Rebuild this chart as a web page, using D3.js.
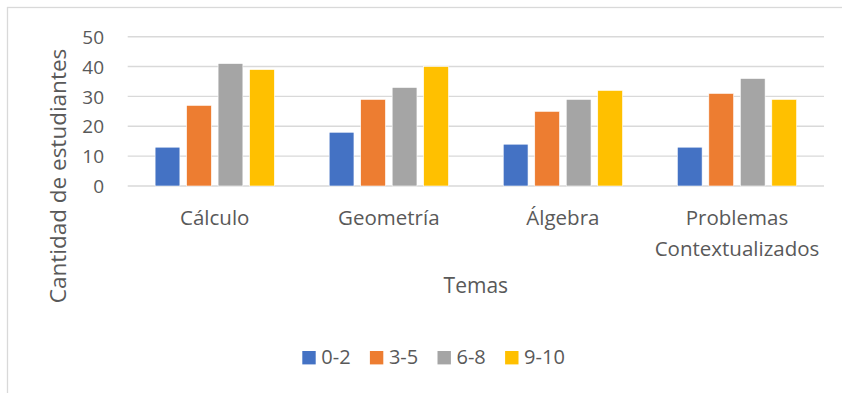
<!DOCTYPE html>
<html>
<head>
<meta charset="utf-8">
<script src="https://cdn.jsdelivr.net/npm/d3@7"></script>
<style>
  html, body { margin: 0; padding: 0; background: #fff; }
  svg { display: block; }
  text { font-family: "Open Sans", "Noto Sans", sans-serif; fill: #595959; }
</style>
</head>
<body>
<svg id="chart" width="842" height="393"></svg>
<script>
// Topics (categories) on the x axis
const temas = ["Cálculo", "Geometría", "Álgebra", "Problemas\nContextualizados"];
// Score ranges (series)
const rangos = ["0-2", "3-5", "6-8", "9-10"];
// Number of students per topic, one array per score range
const valores02  = [13, 18, 14, 13];
const valores35  = [27, 29, 25, 31];
const valores68  = [41, 33, 29, 36];
const valores910 = [39, 40, 32, 29];
const colores = ["#4472C4", "#ED7D31", "#A5A5A5", "#FFC000"];
const yTicks = [0, 10, 20, 30, 40, 50];

const series = [valores02, valores35, valores68, valores910];

const svg = d3.select("#chart");

// Chart frame
svg.append("rect")
  .attr("x", 7.5).attr("y", 7.5)
  .attr("width", 900).attr("height", 500)
  .attr("fill", "none")
  .attr("stroke", "#D9D9D9")
  .attr("stroke-width", 1.3);

const plot = { left: 127.7, right: 824, top: 36.7, bottom: 186 };

const x0 = d3.scaleBand()
  .domain(temas)
  .range([plot.left, plot.right])
  .paddingInner(0).paddingOuter(0);

const x1 = d3.scaleBand()
  .domain(rangos)
  .range([0, x0.bandwidth()])
  .paddingInner(0.213)
  .paddingOuter(0.87);

const y = d3.scaleLinear()
  .domain([0, 50])
  .range([plot.bottom, plot.top]);

// Horizontal gridlines
svg.append("g")
  .selectAll("line")
  .data(yTicks)
  .join("line")
  .attr("x1", plot.left).attr("x2", plot.right)
  .attr("y1", d => y(d)).attr("y2", d => y(d))
  .attr("stroke", "#D9D9D9")
  .attr("stroke-width", 1.4);

// Y axis tick labels
const yAxis = d3.axisLeft(y).tickValues(yTicks).tickSize(0).tickPadding(0);
const gy = svg.append("g")
  .attr("transform", "translate(104,0)")
  .call(yAxis);
gy.select(".domain").remove();
gy.selectAll("text")
  .attr("fill", "#595959")
  .style("font-size", "19px")
  .style("font-family", "'Open Sans', sans-serif")
  .attr("dy", "0.35em");

// Bars
const grupos = svg.append("g")
  .selectAll("g")
  .data(temas)
  .join("g")
  .attr("transform", d => `translate(${x0(d)},0)`);

grupos.selectAll("rect")
  .data((t, i) => rangos.map((r, s) => ({ rango: r, valor: series[s][i], color: colores[s] })))
  .join("rect")
  .attr("x", d => x1(d.rango))
  .attr("width", x1.bandwidth())
  .attr("y", d => y(d.valor))
  .attr("height", d => y(0) - y(d.valor))
  .attr("fill", d => d.color)
  .attr("stroke", "#fff")
  .attr("stroke-width", 0.6);

// Category labels (multi-line)
const xLabels = svg.append("g")
  .selectAll("text")
  .data(temas)
  .join("text")
  .attr("x", d => x0(d) + x0.bandwidth() / 2)
  .attr("y", 225)
  .attr("text-anchor", "middle")
  .style("font-size", "20.5px");
xLabels.selectAll("tspan")
  .data(d => d.split("\n"))
  .join("tspan")
  .attr("x", function () { return d3.select(this.parentNode).attr("x"); })
  .attr("dy", (d, i) => i === 0 ? 0 : 31)
  .text(d => d);

// Axis titles
svg.append("text")
  .attr("x", (plot.left + plot.right) / 2)
  .attr("y", 293)
  .attr("text-anchor", "middle")
  .style("font-size", "21px")
  .text("Temas");

svg.append("text")
  .attr("transform", "translate(65.5,176) rotate(-90)")
  .attr("text-anchor", "middle")
  .style("font-size", "22.5px")
  .text("Cantidad de estudiantes");

// Legend
const legend = svg.append("g")
  .selectAll("g")
  .data(rangos)
  .join("g")
  .attr("transform", (d, i) => `translate(${302.3 + i * 67.6},0)`);
legend.append("rect")
  .attr("x", 0).attr("y", 351)
  .attr("width", 13.4).attr("height", 13.4)
  .attr("fill", (d, i) => colores[i]);
legend.append("text")
  .attr("x", 19)
  .attr("y", 364.3)
  .style("font-size", "20px")
  .text(d => d);
</script>
</body>
</html>
